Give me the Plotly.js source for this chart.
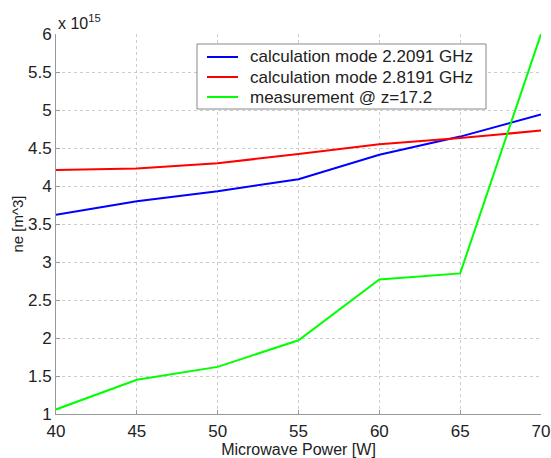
<!DOCTYPE html>
<html><head><meta charset="utf-8">
<script src="https://cdn.plot.ly/plotly-3.0.1.min.js"></script>
<style>body{margin:0;background:#fff}#c{width:551px;height:458px}</style>
</head><body><div id="c"></div>
<script>
const power = [40, 45, 50, 55, 60, 65, 70];
const calc22091 = [3.62, 3.80, 3.93, 4.09, 4.41, 4.65, 4.94];
const calc28191 = [4.21, 4.23, 4.30, 4.42, 4.55, 4.63, 4.73];
const measurement = [1.06, 1.45, 1.62, 1.97, 2.77, 2.85, 6.0];
const names = ['calculation mode 2.2091 GHz', 'calculation mode 2.8191 GHz', 'measurement @ z=17.2'];
const colors = ['#0000ff', '#ff0000', '#00ff00'];
const series = [calc22091, calc28191, measurement];

const traces = series.map((s, i) => ({
  x: power, y: s, type: 'scatter', mode: 'lines', name: names[i],
  line: {color: colors[i], width: 2}
}));

const font = {family: 'Liberation Sans, Arial, sans-serif', color: '#222'};

// Legend drawn as shapes + annotations (compact rows like the reference)
const lg = {x0: 0.2907, x1: 0.8866, y0: 0.8026, y1: 0.9737, lx0: 0.3113, lx1: 0.3753, tx: 0.3959,
  rows: [0.9395, 0.8868, 0.8342]};
const shapes = [{type: 'rect', xref: 'paper', yref: 'paper', x0: lg.x0, x1: lg.x1, y0: lg.y0, y1: lg.y1,
  line: {color: '#888', width: 1}, fillcolor: '#fff', layer: 'above'}];
const annotations = [{xref: 'paper', yref: 'paper', x: 0, y: 1, xanchor: 'left', yanchor: 'bottom',
  xshift: 0, yshift: 0, showarrow: false,
  text: 'x 10<sup>15</sup>', font: Object.assign({size: 16}, font)}];
names.forEach((n, i) => {
  shapes.push({type: 'line', xref: 'paper', yref: 'paper', x0: lg.lx0, x1: lg.lx1, y0: lg.rows[i], y1: lg.rows[i],
    line: {color: colors[i], width: 2}, layer: 'above'});
  annotations.push({xref: 'paper', yref: 'paper', x: lg.tx, y: lg.rows[i], xanchor: 'left', yanchor: 'middle',
    showarrow: false, text: n, font: Object.assign({size: 17}, font)});
});

Plotly.newPlot('c', traces, {
  width: 551, height: 458,
  margin: {l: 56, r: 10, t: 34, b: 44},
  paper_bgcolor: '#fff', plot_bgcolor: '#fff',
  showlegend: false,
  xaxis: {range: [40, 70], tickvals: [40,45,50,55,60,65,70], ticks: 'inside', ticklen: 4,
    tickcolor: '#999', showline: true, linecolor: '#999', linewidth: 1, mirror: false,
    showgrid: true, gridcolor: '#ccc', griddash: 'dot', zeroline: false, ticklabelstandoff: 2,
    tickfont: Object.assign({size: 17}, font),
    title: {text: 'Microwave Power [W]', font: Object.assign({size: 16}, font), standoff: 2}},
  yaxis: {range: [1, 6], tickvals: [1,1.5,2,2.5,3,3.5,4,4.5,5,5.5,6],
    ticktext: ['1','1.5','2','2.5','3','3.5','4','4.5','5','5.5','6'],
    ticks: 'inside', ticklen: 4, tickcolor: '#999',
    showline: true, linecolor: '#999', linewidth: 1, mirror: false,
    showgrid: true, gridcolor: '#ccc', griddash: 'dot', zeroline: false,
    tickfont: Object.assign({size: 17}, font),
    title: {text: 'ne [m^3]', font: Object.assign({size: 15}, font), standoff: 0}},
  shapes: shapes,
  annotations: annotations
}, {displayModeBar: false, staticPlot: true});
</script></body></html>
